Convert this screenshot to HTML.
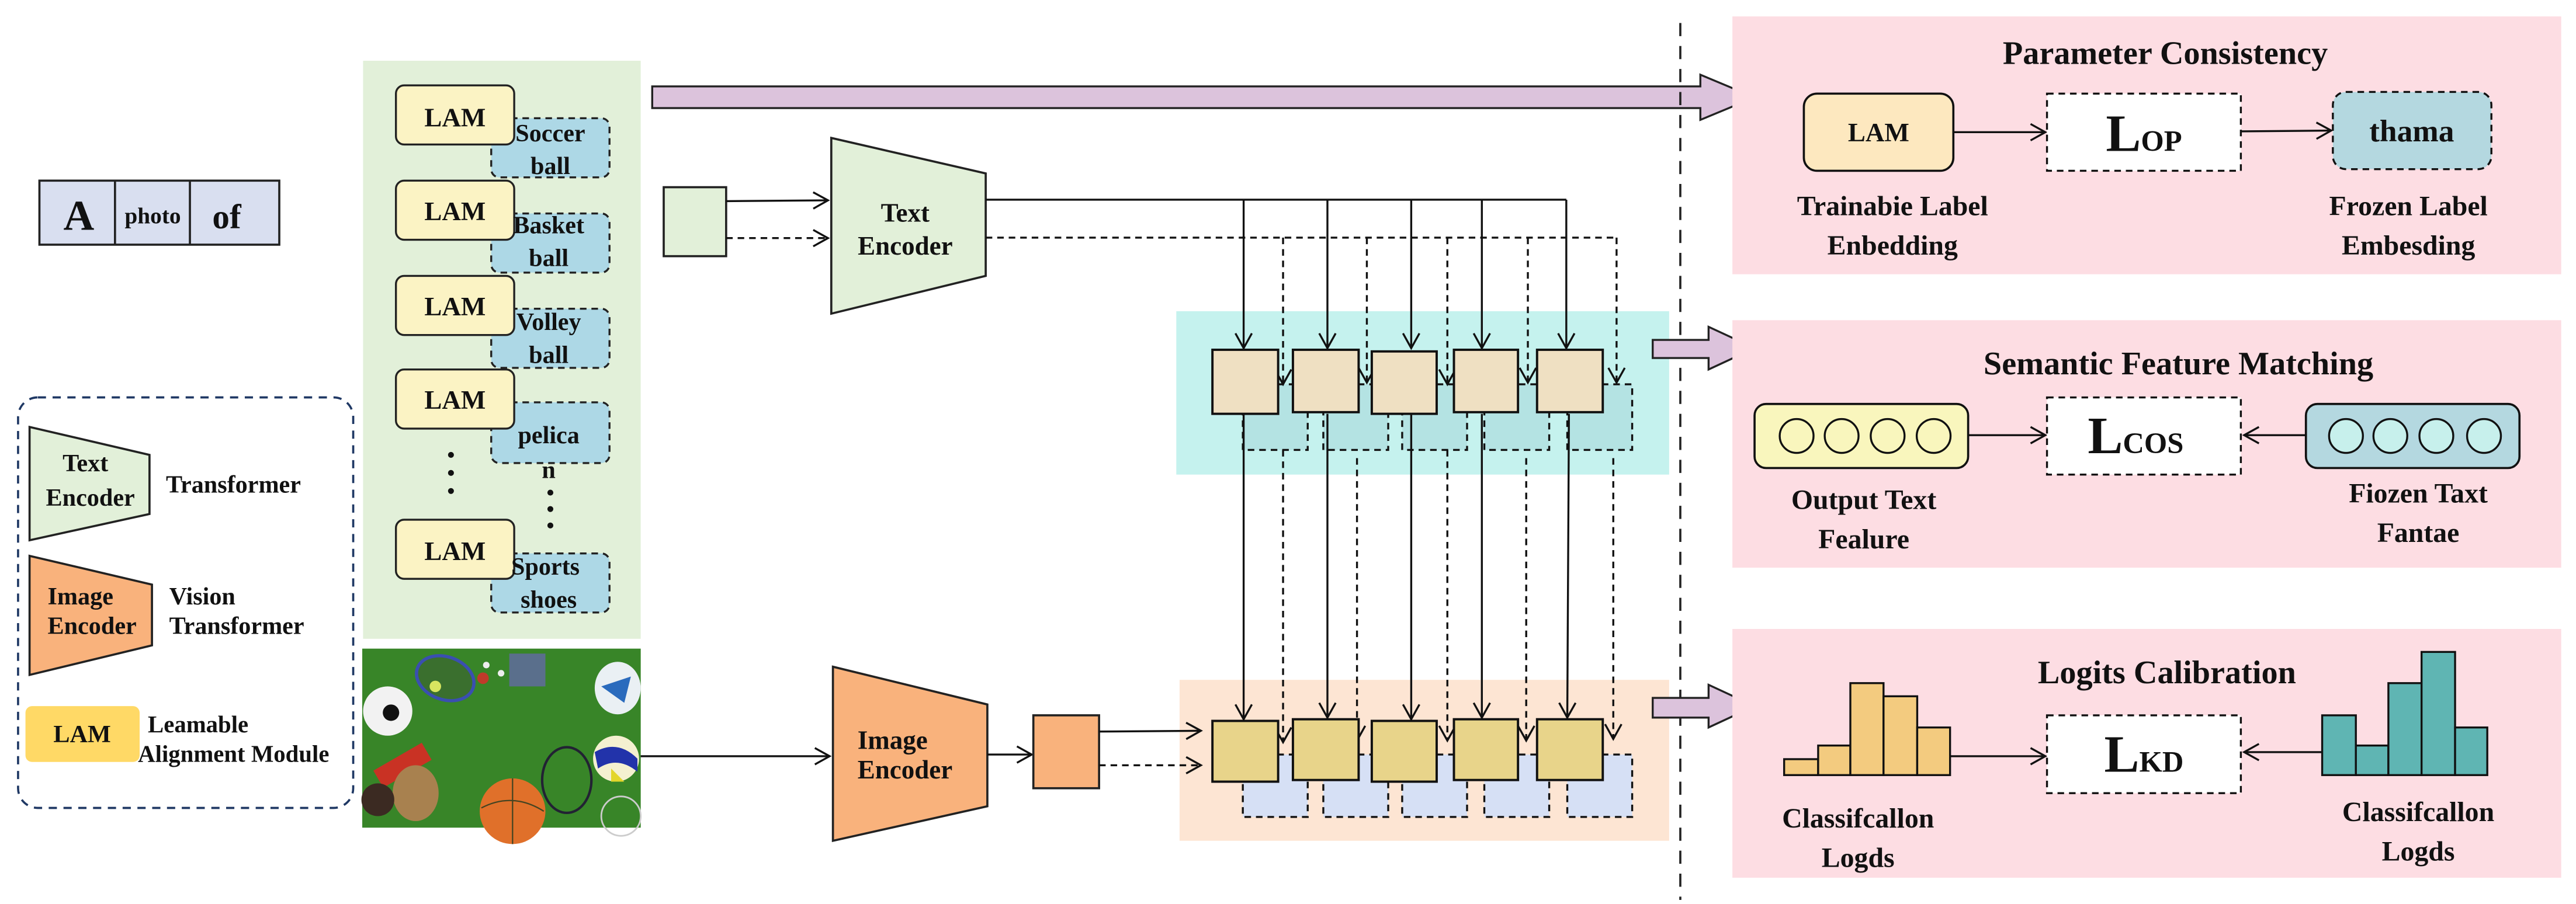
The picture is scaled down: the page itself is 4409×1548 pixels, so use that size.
<!DOCTYPE html>
<html><head><meta charset="utf-8"><style>
html,body{margin:0;padding:0;background:#fff;}
svg{display:block;}
text{font-family:"Liberation Serif",serif;font-weight:bold;fill:#111;}
</style></head><body>
<svg width="4409" height="1548" viewBox="0 0 1568 550.5" preserveAspectRatio="none" xmlns="http://www.w3.org/2000/svg">
<defs>
<marker id="ah" markerWidth="12" markerHeight="12" refX="10" refY="6" orient="auto" markerUnits="userSpaceOnUse">
<path d="M1,1 L10,6 L1,11" fill="none" stroke="#111" stroke-width="1.2"/>
</marker>
</defs>
<rect width="1568" height="550.5" fill="#fff"/>

<!-- panels -->
<rect x="716" y="189.5" width="300" height="99.5" fill="#c5f2ee"/>
<rect x="718" y="414" width="298" height="98" fill="#fde5d3"/>

<!-- A photo of -->
<rect x="24" y="110" width="146" height="39" fill="#d9dff0" stroke="#222" stroke-width="1.3"/>
<line x1="70" y1="110" x2="70" y2="149" stroke="#222" stroke-width="1.3"/>
<line x1="115.6" y1="110" x2="115.6" y2="149" stroke="#222" stroke-width="1.3"/>
<text x="48" y="140" font-size="26" text-anchor="middle">A</text>
<text x="93" y="136" font-size="14" text-anchor="middle">photo</text>
<text x="138" y="139" font-size="21" text-anchor="middle">of</text>

<!-- Green panel -->
<rect x="221" y="37" width="169" height="352" fill="#e2f0d9"/>
<g stroke="#222" stroke-width="1.2">
<rect x="299" y="72" width="72" height="36" rx="5" fill="#add8e6" stroke-dasharray="4,3"/>
<rect x="299" y="130" width="72" height="36" rx="5" fill="#add8e6" stroke-dasharray="4,3"/>
<rect x="299" y="188" width="72" height="36" rx="5" fill="#add8e6" stroke-dasharray="4,3"/>
<rect x="299" y="245" width="72" height="37" rx="5" fill="#add8e6" stroke-dasharray="4,3"/>
<rect x="299" y="337" width="72" height="36" rx="5" fill="#add8e6" stroke-dasharray="4,3"/>
<rect x="241" y="52" width="72" height="36" rx="5" fill="#fbf3c4"/>
<rect x="241" y="110" width="72" height="36" rx="5" fill="#fbf3c4"/>
<rect x="241" y="168" width="72" height="36" rx="5" fill="#fbf3c4"/>
<rect x="241" y="225" width="72" height="36" rx="5" fill="#fbf3c4"/>
<rect x="241" y="316.5" width="72" height="36" rx="5" fill="#fbf3c4"/>
</g>
<g font-size="16" text-anchor="middle">
<text x="277" y="77">LAM</text><text x="277" y="134">LAM</text><text x="277" y="192">LAM</text><text x="277" y="249">LAM</text><text x="277" y="341">LAM</text>
</g>
<g font-size="15" text-anchor="middle">
<text x="335" y="86">Soccer</text><text x="335" y="106">ball</text>
<text x="334" y="142">Basket</text><text x="334" y="162">ball</text>
<text x="334" y="201">Volley</text><text x="334" y="221">ball</text>
<text x="334" y="270">pelica</text><text x="334" y="291">n</text>
<text x="332" y="350">Sports</text><text x="334" y="370">shoes</text>
</g>
<g fill="#111">
<circle cx="274.5" cy="277" r="1.8"/><circle cx="274.5" cy="288" r="1.8"/><circle cx="274.5" cy="299" r="1.8"/>
<circle cx="335" cy="300" r="1.8"/><circle cx="335" cy="310" r="1.8"/><circle cx="335" cy="320" r="1.8"/>
</g>

<!-- Legend -->
<rect x="11" y="242" width="204" height="250" rx="12" fill="none" stroke="#1f3864" stroke-width="1.3" stroke-dasharray="5,4"/>
<polygon points="18,260 91,277 91,313 18,329" fill="#e2f0d9" stroke="#222" stroke-width="1.3"/>
<text x="52" y="287" font-size="15" text-anchor="middle">Text</text>
<text x="55" y="308" font-size="15" text-anchor="middle">Encoder</text>
<text x="101" y="300" font-size="15">Transformer</text>
<polygon points="18,338.5 92.5,356 92.5,393 18,411" fill="#f9b27c" stroke="#222" stroke-width="1.3"/>
<text x="29" y="368" font-size="15">Image</text>
<text x="29" y="386" font-size="15">Encoder</text>
<text x="103" y="368" font-size="15">Vision</text>
<text x="103" y="386" font-size="15">Transformer</text>
<rect x="15.5" y="430" width="69.5" height="34" rx="4" fill="#ffd966"/>
<text x="50" y="452" font-size="15" text-anchor="middle">LAM</text>
<text x="90" y="446" font-size="14.5">Leamable</text>
<text x="84" y="464" font-size="14.5">Alignment Module</text>

<!-- sports image -->
<rect x="220.5" y="395" width="169.5" height="109" fill="#3e8a2c"/>
<rect x="220.5" y="395" width="169.5" height="109" fill="#2f7a22" opacity="0.35"/>
<ellipse cx="271" cy="413" rx="18" ry="13" fill="#3a6f2e" stroke="#3a4fb0" stroke-width="2" transform="rotate(20 271 413)"/>
<circle cx="265" cy="418" r="3.5" fill="#d8e560"/>
<circle cx="294" cy="413" r="3.5" fill="#c03a2a"/>
<circle cx="296" cy="405" r="2" fill="#eee"/><circle cx="305" cy="410" r="2" fill="#eee"/>
<rect x="310" y="398" width="22" height="20" fill="#5a6f8c"/>
<circle cx="236" cy="433" r="15" fill="#f2f2f2"/>
<circle cx="238" cy="434" r="5" fill="#111"/>
<ellipse cx="376" cy="419" rx="14" ry="16" fill="#eaf0f4"/>
<path d="M366,418 L384,412 L380,428 Z" fill="#2a6bbd"/>
<circle cx="375" cy="462" r="14" fill="#f4f0d0"/>
<path d="M362,458 Q376,450 388,462 L388,470 Q376,460 364,468 Z" fill="#2233aa"/>
<path d="M372,468 L380,476 L372,476 Z" fill="#e3d62b"/>
<circle cx="312" cy="494" r="20" fill="#e0702a"/>
<path d="M293,492 Q312,482 331,494 M312,474 L312,514" stroke="#442" stroke-width="0.8" fill="none"/>
<rect x="228" y="460" width="34" height="12" fill="#c93224" transform="rotate(-30 245 466)"/>
<ellipse cx="253" cy="483" rx="14" ry="17" fill="#a8814f"/>
<circle cx="230" cy="487" r="10" fill="#3b2a22"/>
<ellipse cx="345" cy="475" rx="15" ry="20" fill="none" stroke="#223" stroke-width="1.5"/>
<ellipse cx="378" cy="497" rx="12" ry="12" fill="none" stroke="#ccc" stroke-width="1"/>

<!-- main arrows top -->
<path d="M397,52.6 L1035,52.6 L1035,45.5 L1068,59.3 L1035,73 L1035,65.8 L397,65.8 Z" fill="#dcc3dc" stroke="#222" stroke-width="1.2"/>

<!-- dashed divider -->
<line x1="1022.8" y1="14" x2="1022.8" y2="548" stroke="#222" stroke-width="1.3" stroke-dasharray="8,6"/>

<!-- small green square & text encoder -->
<rect x="404" y="114" width="38" height="42" fill="#e2f0d9" stroke="#222" stroke-width="1.3"/>
<line x1="442" y1="122.5" x2="504" y2="122" stroke="#111" stroke-width="1.2" marker-end="url(#ah)"/>
<line x1="442" y1="145" x2="504" y2="145" stroke="#111" stroke-width="1.2" stroke-dasharray="4,3" marker-end="url(#ah)"/>
<polygon points="506,84 600,105.6 600,168 506,191" fill="#e2f0d9" stroke="#222" stroke-width="1.3"/>
<text x="551" y="135" font-size="16" text-anchor="middle">Text</text>
<text x="551" y="155" font-size="16" text-anchor="middle">Encoder</text>

<!-- image encoder -->
<line x1="390" y1="460.5" x2="505" y2="460.5" stroke="#111" stroke-width="1.2" marker-end="url(#ah)"/>
<polygon points="507,406 601,429 601,491 507,512" fill="#f9b27c" stroke="#222" stroke-width="1.3"/>
<text x="522" y="456" font-size="16">Image</text>
<text x="522" y="474" font-size="16">Encoder</text>
<line x1="601" y1="459.5" x2="628" y2="459.5" stroke="#111" stroke-width="1.2" marker-end="url(#ah)"/>
<rect x="629" y="435.6" width="40" height="44.4" fill="#f9b27c" stroke="#222" stroke-width="1.3"/>
<line x1="669" y1="445.5" x2="731" y2="445" stroke="#111" stroke-width="1.2" marker-end="url(#ah)"/>
<line x1="669" y1="466" x2="731" y2="466" stroke="#111" stroke-width="1.2" stroke-dasharray="4,3" marker-end="url(#ah)"/>

<!-- text encoder output lines -->
<line x1="600" y1="121.6" x2="953.4" y2="121.6" stroke="#111" stroke-width="1.2"/>
<line x1="600" y1="144.7" x2="984.4" y2="144.7" stroke="#111" stroke-width="1.2" stroke-dasharray="4,3"/>

<!-- dashed boxes upper -->
<g stroke="#111" stroke-width="1.2" stroke-dasharray="4,3" fill="#b4e3e3">
<rect x="756.5" y="234" width="39.5" height="40"/>
<rect x="805.5" y="234" width="39.5" height="40"/>
<rect x="853.5" y="234" width="39.5" height="40"/>
<rect x="903.5" y="234" width="39.5" height="40"/>
<rect x="954" y="234" width="39.5" height="40"/>
</g>
<g stroke="#111" stroke-width="1.2" stroke-dasharray="4,3" fill="#d6e0f5">
<rect x="756.5" y="459.5" width="39.5" height="38"/>
<rect x="805.5" y="459.5" width="39.5" height="38"/>
<rect x="853.5" y="459.5" width="39.5" height="38"/>
<rect x="903.5" y="459.5" width="39.5" height="38"/>
<rect x="954" y="459.5" width="39.5" height="38"/>
</g>

<!-- solid verticals -->
<g stroke="#111" stroke-width="1.2" marker-end="url(#ah)">
<line x1="757" y1="121.6" x2="757" y2="212"/>
<line x1="808" y1="121.6" x2="808" y2="212"/>
<line x1="859" y1="121.6" x2="859" y2="212"/>
<line x1="902" y1="121.6" x2="902" y2="212"/>
<line x1="953.4" y1="121.6" x2="953.4" y2="212"/>
<line x1="757" y1="252" x2="757" y2="438"/>
<line x1="808" y1="252" x2="808" y2="437"/>
<line x1="859" y1="252" x2="859" y2="438"/>
<line x1="902" y1="252" x2="902" y2="437"/>
<line x1="955" y1="252" x2="954" y2="437"/>
</g>
<!-- dashed verticals -->
<g stroke="#111" stroke-width="1.2" stroke-dasharray="4,3" marker-end="url(#ah)">
<line x1="781" y1="144.7" x2="781" y2="234"/>
<line x1="832" y1="144.7" x2="832" y2="233"/>
<line x1="881" y1="144.7" x2="881" y2="234"/>
<line x1="930" y1="144.7" x2="930" y2="233"/>
<line x1="984" y1="144.7" x2="984" y2="233"/>
<line x1="781" y1="274" x2="781" y2="452"/>
<line x1="826" y1="279" x2="826" y2="451"/>
<line x1="881" y1="274" x2="881" y2="451"/>
<line x1="929" y1="279" x2="929" y2="451"/>
<line x1="982" y1="279" x2="982" y2="450"/>
</g>

<!-- boxes -->
<g stroke="#111" stroke-width="1.4" fill="#efe0c2">
<rect x="738" y="213" width="40" height="39"/>
<rect x="787" y="213" width="40" height="38"/>
<rect x="835" y="214" width="39.5" height="38"/>
<rect x="885" y="213" width="39" height="38"/>
<rect x="935.6" y="213" width="40" height="38"/>
</g>
<g stroke="#111" stroke-width="1.4" fill="#e8d48a">
<rect x="738" y="439" width="40" height="37"/>
<rect x="787" y="438" width="40" height="37"/>
<rect x="835" y="439" width="39.5" height="37"/>
<rect x="885" y="438" width="39" height="37"/>
<rect x="935.6" y="438" width="40" height="37"/>
</g>

<!-- middle & lower purple arrows -->
<path d="M1006,207 L1040,207 L1040,199 L1068,212 L1040,225 L1040,218 L1006,218 Z" fill="#dcc3dc" stroke="#222" stroke-width="1.2"/>
<path d="M1006,425 L1040,425 L1040,417 L1068,430 L1040,443 L1040,437 L1006,437 Z" fill="#dcc3dc" stroke="#222" stroke-width="1.2"/>

<!-- pink panels -->
<rect x="1054.5" y="10" width="504.5" height="157" fill="#fddde3"/>
<rect x="1054.5" y="195" width="504.5" height="150.7" fill="#fddde3"/>
<rect x="1054.5" y="383" width="504.5" height="151.5" fill="#fddde3"/>

<!-- Parameter Consistency -->
<text x="1318" y="39" font-size="20" text-anchor="middle">Parameter Consistency</text>
<rect x="1098" y="57" width="91" height="47" rx="8" fill="#fde8bf" stroke="#111" stroke-width="1.3"/>
<text x="1143.5" y="86" font-size="16" text-anchor="middle">LAM</text>
<line x1="1189" y1="80.5" x2="1245" y2="80.5" stroke="#111" stroke-width="1.2" marker-end="url(#ah)"/>
<rect x="1246" y="57" width="118" height="47" fill="#fff" stroke="#111" stroke-width="1.2" stroke-dasharray="4,3"/>
<text x="1305" y="92" font-size="32" text-anchor="middle">L<tspan font-size="18">OP</tspan></text>
<line x1="1364" y1="80" x2="1419" y2="79.5" stroke="#111" stroke-width="1.2" marker-end="url(#ah)"/>
<rect x="1420" y="56" width="96.5" height="47" rx="8" fill="#b4d8e0" stroke="#111" stroke-width="1.2" stroke-dasharray="4,3"/>
<text x="1468" y="86" font-size="19" text-anchor="middle">thama</text>
<text x="1152" y="131" font-size="17" text-anchor="middle">Trainabie Label</text>
<text x="1152" y="155" font-size="17" text-anchor="middle">Enbedding</text>
<text x="1466" y="131" font-size="17" text-anchor="middle">Frozen Label</text>
<text x="1466" y="155" font-size="17" text-anchor="middle">Embesding</text>

<!-- Semantic Feature Matching -->
<text x="1326" y="228" font-size="20" text-anchor="middle">Semantic Feature Matching</text>
<rect x="1068" y="246" width="130" height="39" rx="7" fill="#f9f6bd" stroke="#111" stroke-width="1.3"/>
<g fill="#f9f6bd" stroke="#111" stroke-width="1.2">
<circle cx="1093.6" cy="265.5" r="10.3"/><circle cx="1121" cy="265.5" r="10.3"/><circle cx="1149" cy="265.5" r="10.3"/><circle cx="1177" cy="265.5" r="10.3"/>
</g>
<line x1="1198" y1="265" x2="1245" y2="265" stroke="#111" stroke-width="1.2" marker-end="url(#ah)"/>
<rect x="1246" y="242" width="118" height="47" fill="#fff" stroke="#111" stroke-width="1.2" stroke-dasharray="4,3"/>
<text x="1300" y="276" font-size="32" text-anchor="middle">L<tspan font-size="18">COS</tspan></text>
<line x1="1403.6" y1="265" x2="1366" y2="265" stroke="#111" stroke-width="1.2" marker-end="url(#ah)"/>
<rect x="1403.6" y="246" width="130" height="39" rx="7" fill="#b4d8e0" stroke="#111" stroke-width="1.3"/>
<g fill="#c7f0ec" stroke="#111" stroke-width="1.2">
<circle cx="1428" cy="265.5" r="10.3"/><circle cx="1455" cy="265.5" r="10.3"/><circle cx="1483" cy="265.5" r="10.3"/><circle cx="1512" cy="265.5" r="10.3"/>
</g>
<text x="1134.5" y="310" font-size="17" text-anchor="middle">Output Text</text>
<text x="1134.5" y="334" font-size="17" text-anchor="middle">Fealure</text>
<text x="1472" y="306" font-size="17" text-anchor="middle">Fiozen Taxt</text>
<text x="1472" y="330" font-size="17" text-anchor="middle">Fantae</text>

<!-- Logits Calibration -->
<text x="1319" y="416" font-size="20" text-anchor="middle">Logits Calibration</text>
<g fill="#f3cb7f" stroke="#111" stroke-width="1.2">
<rect x="1086" y="462.3" width="20.7" height="9.7"/>
<rect x="1106.7" y="454" width="19.6" height="18"/>
<rect x="1126.3" y="416" width="20.2" height="56"/>
<rect x="1146.5" y="424" width="20.5" height="48"/>
<rect x="1167" y="443" width="20" height="29"/>
</g>
<line x1="1187" y1="460.5" x2="1245" y2="460.5" stroke="#111" stroke-width="1.2" marker-end="url(#ah)"/>
<rect x="1246" y="435.6" width="118" height="47.4" fill="#fff" stroke="#111" stroke-width="1.2" stroke-dasharray="4,3"/>
<text x="1305" y="470" font-size="32" text-anchor="middle">L<tspan font-size="18">KD</tspan></text>
<line x1="1413.5" y1="458" x2="1366" y2="458" stroke="#111" stroke-width="1.2" marker-end="url(#ah)"/>
<g fill="#5fb5b3" stroke="#111" stroke-width="1.2">
<rect x="1413.5" y="435.6" width="20.5" height="36.4"/>
<rect x="1434" y="454" width="19.8" height="18"/>
<rect x="1453.8" y="416" width="20.2" height="56"/>
<rect x="1474" y="397" width="20.4" height="75"/>
<rect x="1494.4" y="443" width="19.6" height="29"/>
</g>
<text x="1131" y="504" font-size="17" text-anchor="middle">Classifcallon</text>
<text x="1131" y="528" font-size="17" text-anchor="middle">Logds</text>
<text x="1472" y="500" font-size="17" text-anchor="middle">Classifcallon</text>
<text x="1472" y="524" font-size="17" text-anchor="middle">Logds</text>
</svg>
</body></html>
